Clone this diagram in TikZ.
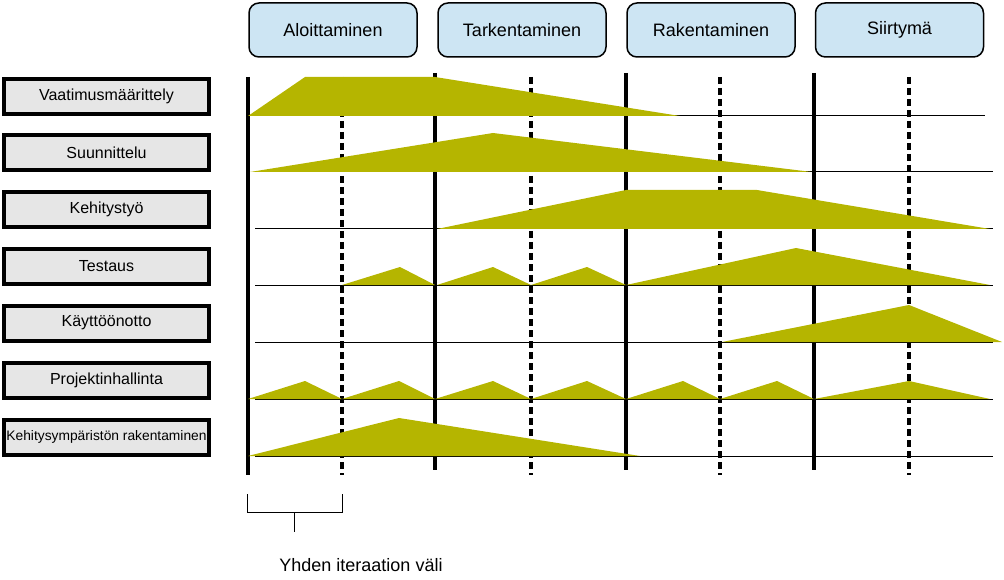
\documentclass[tikz,border=0pt]{standalone}
\usepackage{fontspec}
\setmainfont{Liberation Sans}
\usepackage{tikz}
\definecolor{phaseblue}{RGB}{205,229,243}
\definecolor{boxgray}{RGB}{230,230,230}
\definecolor{effort}{RGB}{181,181,0}
\tikzset{
  phase/.style={draw, line width=1.5pt, rounded corners=10pt, fill=phaseblue, minimum width=168pt, minimum height=54pt, font=\fontsize{18}{20}\selectfont},
  task/.style={draw, line width=4pt, fill=boxgray, minimum width=205pt, minimum height=35pt, inner sep=0pt, font=\fontsize{16}{18}\selectfont},
  milestone/.style={line width=3.5pt},
  iteration/.style={line width=3.5pt, dash pattern=on 7pt off 4pt},
  rowline/.style={line width=1pt},
  workload/.style={fill=effort}
}
\begin{document}
\begin{tikzpicture}[x=1pt, y=-1pt]
      \useasboundingbox (0,0) rectangle (1004,580);
      % Phases
      \node[phase] (aloit) at (333,30) {Aloittaminen};
      \node[phase] (tark) at (522,30) {Tarkentaminen};
      \node[phase] (rak) at (711,30) {Rakentaminen};
      \node[phase] (siirt) at (899.5,30) {Siirtymä};
      % Activities
      \node[task] (vaat) at (106.5,96.5) {Vaatimusmäärittely};
      \node[task] (suun) at (106.5,152.5) {Suunnittelu};
      \node[task] (kehi) at (106.5,209.5) {Kehitystyö};
      \node[task] (test) at (106.5,266.5) {Testaus};
      \node[task] (kayt) at (106.5,323) {Käyttöönotto};
      \node[task] (proj) at (106.5,380.5) {Projektinhallinta};
      \node[task, font=\fontsize{13.8}{16}\selectfont] (ymp) at (106.5,437) {Kehitysympäristön rakentaminen};
      % Row lines
      \draw[rowline] (248,116) -- (985,116);
      \foreach \y in {172,229,285,342,399,456}
        \draw[rowline] (255,\y) -- (993,\y);
      % Phase borders and iterations
      \draw[milestone] (248,77) -- (248,475);
      \foreach \x in {435,626,814}
        \draw[milestone] (\x,73) -- (\x,470);
      \foreach \x in {342,531,720,909}
        \draw[iteration] (\x,77) -- (\x,475);
      % Vaatimusmaarittely
      \fill[workload] (248,116) -- (305,77) -- (435,77) -- (680,116) -- cycle;
      % Suunnittelu
      \fill[workload] (250,172) -- (493,133) -- (812,172) -- cycle;
      % Kehitystyo
      \fill[workload] (437,229) -- (626,190) -- (757,190) -- (990,229) -- cycle;
      % Testaus
      \foreach \a/\b/\c in {342/400/435, 437/493/531, 531/587/626}
        \fill[workload] (\a,285) -- (\b,267) -- (\c,285) -- cycle;
      \fill[workload] (626,285) -- (796,248) -- (990,285) -- cycle;
      % Kayttoonotto
      \fill[workload] (722,342) -- (909,305) -- (1002,342) -- cycle;
      % Projektinhallinta
      \foreach \a/\b/\c in {248/305/342, 342/399/435, 435/493/531, 531/587/626, 626/683/720, 720/777/814, 814/909/990}
        \fill[workload] (\a,399) -- (\b,381) -- (\c,399) -- cycle;
      % Kehitysympariston rakentaminen
      \fill[workload] (248,456) -- (399,418) -- (640,456) -- cycle;
      % One iteration
      \draw[rowline] (247,494) -- (247,512) -- (342,512) -- (342,494);
      \draw[rowline] (294,512) -- (294,532);
      \node[font=\fontsize{18}{20}\selectfont] (iter) at (361,565) {Yhden iteraation väli};
    \end{tikzpicture}
\end{document}
